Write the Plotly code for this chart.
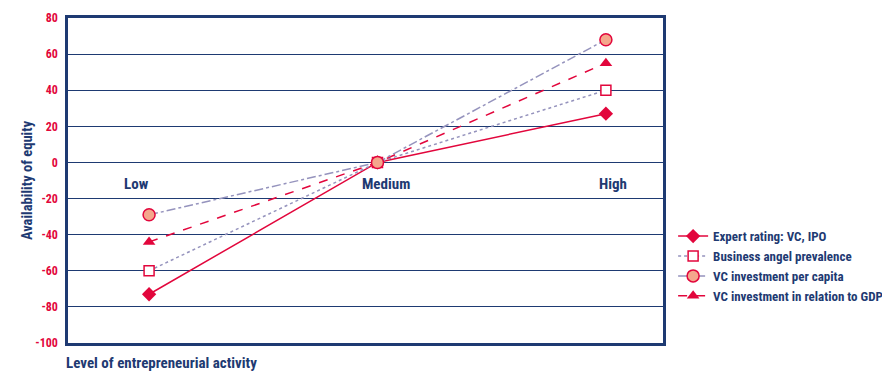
import plotly.graph_objects as go

categories = ["Low", "Medium", "High"]
expert_vc_ipo = [-73, 0, 27]
business_angel = [-60, 0, 40]
vc_per_capita = [-29, 0, 68]
vc_gdp = [-44, 0, 55]
y_ticks = [80, 60, 40, 20, 0, -20, -40, -60, -80, -100]

NAVY = "#1e3a72"
RED = "#e2063c"
LILAC = "#9593bd"
SALMON = "#f4a78c"
FONT = "Liberation Sans Narrow, Roboto Condensed, Arial Narrow, sans-serif"

xpos = list(range(len(categories)))
label_shift = [-13, 9, 7]

fig = go.Figure()
fig.add_trace(go.Scatter(
    x=xpos, y=expert_vc_ipo, name="Expert rating: VC, IPO", mode="lines+markers",
    line=dict(color=RED, width=1.5), legendrank=1,
    marker=dict(symbol="diamond", size=11, color=RED)))
fig.add_trace(go.Scatter(
    x=xpos, y=business_angel, name="Business angel prevalence", mode="lines+markers",
    line=dict(color=LILAC, width=1.5, dash="dot"), legendrank=2,
    marker=dict(symbol="square", size=10, color="white", line=dict(color=RED, width=1.5))))
fig.add_trace(go.Scatter(
    x=xpos, y=vc_gdp, name="VC investment in relation to GDP", mode="lines+markers",
    line=dict(color=RED, width=1.5, dash="dash"), legendrank=4,
    marker=dict(symbol="triangle-up", size=11, color=RED)))
fig.add_trace(go.Scatter(
    x=xpos, y=vc_per_capita, name="VC investment per capita", mode="lines+markers",
    line=dict(color=LILAC, width=1.5, dash="dashdot"), legendrank=3,
    marker=dict(symbol="circle", size=12, color=SALMON, line=dict(color=RED, width=1.5))))

for i, c in enumerate(categories):
    fig.add_annotation(x=i, y=-12, text=c, showarrow=False, xref="x", yref="y",
                       xshift=label_shift[i],
                       font=dict(family=FONT, size=15, color=NAVY, weight="bold"))

fig.update_xaxes(range=[-0.355, 2.25], showticklabels=False, showgrid=False,
                 zeroline=False, showline=True, mirror=True, linecolor=NAVY, linewidth=2.5,
                 ticks="")
fig.update_yaxes(range=[-100, 80], tickvals=y_ticks, ticktext=[str(v) for v in y_ticks],
                 showgrid=True, gridcolor=NAVY, gridwidth=1.3, zeroline=False,
                 showline=True, mirror=True, linecolor=NAVY, linewidth=2.5,
                 tickfont=dict(family=FONT, size=12, color=RED, weight="bold"),
                 ticks="outside", ticklen=5, tickcolor="rgba(0,0,0,0)",
                 title=dict(text="Availability of equity", standoff=0,
                            font=dict(family=FONT, size=14.5, color=NAVY, weight="bold")))

fig.add_annotation(x=0, y=-0.028, xref="paper", yref="paper", xanchor="left", yanchor="top",
                   xshift=-4,
                   text="Level of entrepreneurial activity", showarrow=False,
                   font=dict(family=FONT, size=15, color=NAVY, weight="bold"))

fig.update_layout(
    width=882, height=371,
    margin=dict(l=68, r=219, t=18, b=28, autoexpand=False),
    paper_bgcolor="white", plot_bgcolor="white",
    font=dict(family=FONT, color=NAVY),
    showlegend=True,
    legend=dict(x=1.017, y=0.375, xanchor="left", yanchor="top",
                font=dict(family=FONT, size=13, color=NAVY, weight="bold"),
                bgcolor="rgba(0,0,0,0)", tracegroupgap=0, itemwidth=30),
)

fig.write_html("out.html")
